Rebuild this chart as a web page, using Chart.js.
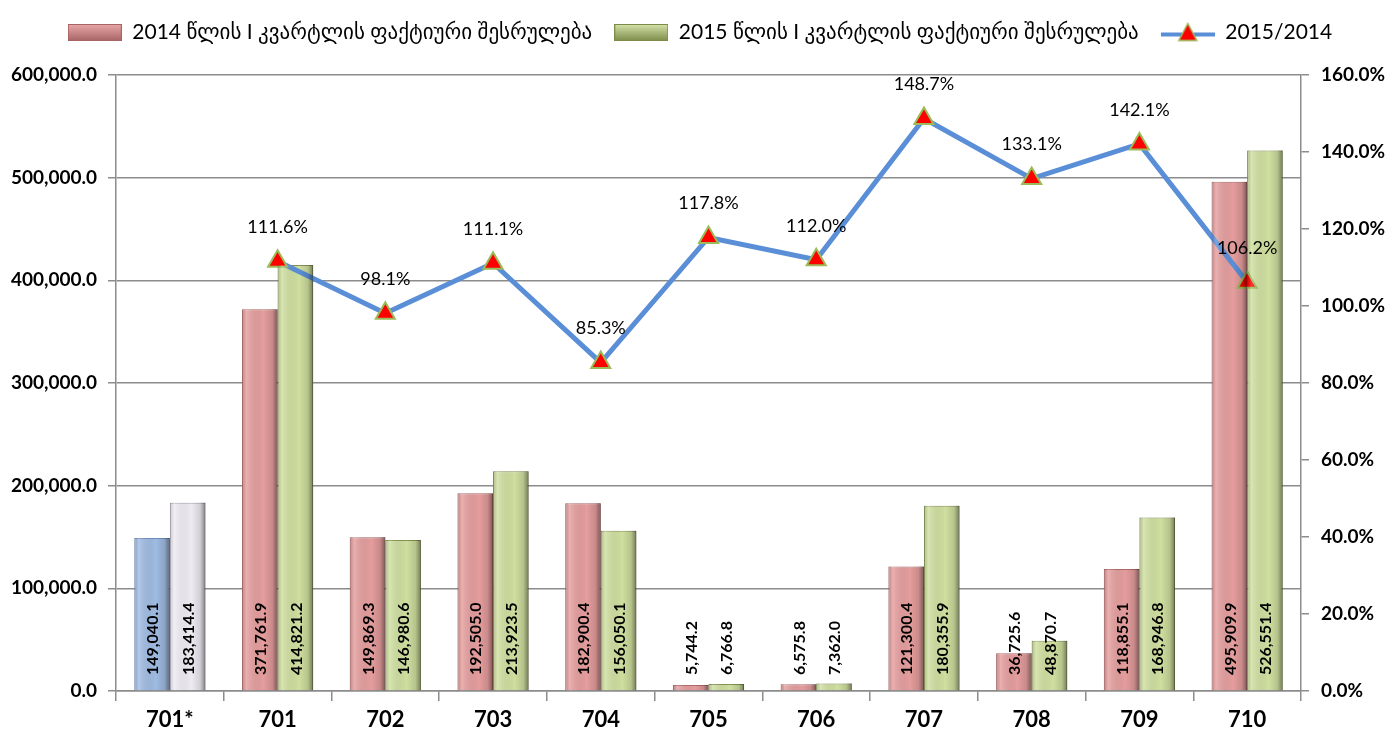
<!DOCTYPE html>
<html>
<head>
<meta charset="utf-8">
<script src="https://cdn.jsdelivr.net/npm/chart.js@4.4.0/dist/chart.umd.min.js"></script>
<style>
  html, body { margin: 0; padding: 0; background: #fff; }
  #wrap { width: 1400px; height: 739px; }
</style>
</head>
<body>
<div id="wrap"><canvas id="chartFakt"></canvas></div>
<script>
// data
var categories = ['701*', '701', '702', '703', '704', '705', '706', '707', '708', '709', '710'];
var fakt2014 = [149040.1, 371761.9, 149869.3, 192505.0, 182900.4, 5744.2, 6575.8, 121300.4, 36725.6, 118855.1, 495909.9];
var fakt2015 = [183414.4, 414821.2, 146980.6, 213923.5, 156050.1, 6766.8, 7362.0, 180355.9, 48870.7, 168946.8, 526551.4];
var ratio = [null, 111.6, 98.1, 111.1, 85.3, 117.8, 112.0, 148.7, 133.1, 142.1, 106.2];
var label2014 = '2014 წლის I კვარტლის ფაქტიური შესრულება';
var label2015 = '2015 წლის I კვარტლის ფაქტიური შესრულება';
var labelRatio = '2015/2014';

var FONT = "Lato, 'DejaVu Sans', sans-serif";

var col2014 = categories.map(function (c, i) { return i === 0 ? '#9fbbe2' : '#e59d9d'; });
var col2015 = categories.map(function (c, i) { return i === 0 ? '#efebf3' : '#cfdf9f'; });
var brd2014 = categories.map(function (c, i) { return i === 0 ? '#6f8fbf' : '#b26a6a'; });
var brd2015 = categories.map(function (c, i) { return i === 0 ? '#a9a4b2' : '#85944f'; });

function fmtNum(v) {
    return v.toLocaleString('en-US', { minimumFractionDigits: 1, maximumFractionDigits: 1 });
}

// legend pictures
function boxImg(fill, dark) {
    var c = document.createElement('canvas');
    c.width = 54; c.height = 17;
    var x = c.getContext('2d');
    var g = x.createLinearGradient(0, 0, 0, 17);
    g.addColorStop(0, fill);
    g.addColorStop(1, dark);
    x.fillStyle = g;
    x.fillRect(0, 0, 54, 17);
    x.strokeStyle = dark;
    x.strokeRect(0.5, 0.5, 53, 16);
    return c;
}
function lineImg() {
    var c = document.createElement('canvas');
    c.width = 54; c.height = 24;
    var x = c.getContext('2d');
    x.strokeStyle = '#5a8fd8';
    x.lineWidth = 4;
    x.beginPath(); x.moveTo(0, 14); x.lineTo(54, 14); x.stroke();
    x.fillStyle = '#ff0000';
    x.strokeStyle = '#9bbb59';
    x.lineWidth = 1.5;
    x.beginPath(); x.moveTo(27, 3); x.lineTo(36, 20); x.lineTo(18, 20); x.closePath();
    x.fill(); x.stroke();
    return c;
}
var legendPics = [boxImg('#e9a9a9', '#a86464'), boxImg('#d7e4ad', '#7c8c48'), lineImg()];

// fixed legend height so the plot starts where the original does
var legendHeight = {
    id: 'legendHeight',
    beforeInit: function (chart) {
        var lg = chart.legend;
        if (!lg) return;
        var orig = lg.fit;
        lg.fit = function () {
            orig.call(this);
            this.height = 75;
        };
    }
};

// bar shading + value labels
var barDecor = {
    id: 'barDecor',
    afterDatasetsDraw: function (chart) {
        var ctx = chart.ctx;
        var area = chart.chartArea;
        [1, 2].forEach(function (di) {
            var meta = chart.getDatasetMeta(di);
            meta.data.forEach(function (bar, i) {
                var w = bar.width, left = bar.x - w / 2, top = bar.y, h = bar.base - bar.y;
                ctx.save();
                var g = ctx.createLinearGradient(left, 0, left + w, 0);
                g.addColorStop(0, 'rgba(0,0,0,0.12)');
                g.addColorStop(0.12, 'rgba(255,255,255,0.2)');
                g.addColorStop(0.6, 'rgba(0,0,0,0)');
                g.addColorStop(0.85, 'rgba(0,0,0,0.12)');
                g.addColorStop(1, 'rgba(0,0,0,0.45)');
                ctx.fillStyle = g;
                ctx.fillRect(left, top, w, h);
                ctx.restore();

                var val = chart.data.datasets[di].data[i];
                ctx.save();
                ctx.translate(bar.x, area.bottom - 16);
                ctx.rotate(-Math.PI / 2);
                ctx.font = "bold 16px " + FONT;
                ctx.fillStyle = '#000';
                ctx.textAlign = 'left';
                ctx.textBaseline = 'middle';
                ctx.fillText(fmtNum(val), 0, 1);
                ctx.restore();
            });
        });
        // ratio labels
        var lm = chart.getDatasetMeta(0);
        lm.data.forEach(function (pt, i) {
            var v = chart.data.datasets[0].data[i];
            if (v === null) return;
            ctx.save();
            ctx.font = "18px " + FONT;
            ctx.fillStyle = '#000';
            ctx.textAlign = 'center';
            ctx.textBaseline = 'middle';
            ctx.fillText(v.toFixed(1) + '%', pt.x, pt.y - 34);
            ctx.restore();
        });
    }
};

var ctx = document.getElementById('chartFakt').getContext('2d');
var chartFakt = new Chart(ctx, {
    type: 'bar',
    data: {
        labels: categories,
        datasets: [{
            type: 'line',
            label: labelRatio,
            data: ratio,
            yAxisID: 'y1',
            borderColor: '#5a8fd8',
            backgroundColor: '#ff0000',
            borderWidth: 5,
            pointStyle: 'triangle',
            pointRadius: 11,
            pointHoverRadius: 11,
            pointBackgroundColor: '#ff0000',
            pointBorderColor: '#9bbb59',
            pointBorderWidth: 2,
            tension: 0,
            order: 0
        }, {
            label: label2014,
            data: fakt2014,
            yAxisID: 'y',
            backgroundColor: col2014,
            borderColor: brd2014,
            borderWidth: 1,
            categoryPercentage: 0.66,
            barPercentage: 1,
            order: 1
        }, {
            label: label2015,
            data: fakt2015,
            yAxisID: 'y',
            backgroundColor: col2015,
            borderColor: brd2015,
            borderWidth: 1,
            categoryPercentage: 0.66,
            barPercentage: 1,
            order: 1
        }]
    },
    options: {
        responsive: true,
        maintainAspectRatio: false,
        animation: false,
        layout: { padding: { left: 0, right: 0, top: 0, bottom: 0 } },
        plugins: {
            tooltip: { enabled: false },
            legend: {
                position: 'top',
                labels: {
                    usePointStyle: true,
                    pointStyleWidth: 54,
                    boxHeight: 17,
                    padding: 22,
                    color: '#000',
                    font: { family: FONT, size: 21 },
                    generateLabels: function (chart) {
                        var order = [1, 2, 0];
                        return order.map(function (di, k) {
                            return {
                                text: chart.data.datasets[di].label,
                                pointStyle: legendPics[k],
                                fillStyle: '#fff',
                                strokeStyle: '#fff',
                                lineWidth: 0,
                                datasetIndex: di,
                                fontColor: '#000'
                            };
                        });
                    }
                }
            }
        },
        scales: {
            x: {
                grid: { display: true, offset: true, drawOnChartArea: false, tickLength: 10, color: '#8c8c8c', lineWidth: 1.5 },
                border: { color: '#8c8c8c', width: 1.5 },
                ticks: { color: '#000', font: { family: FONT, size: 22, weight: 'bold' }, padding: 6 },
                afterFit: function (s) { s.height = 48; }
            },
            y: {
                position: 'left',
                min: 0,
                max: 600000,
                ticks: {
                    stepSize: 100000,
                    color: '#000',
                    font: { family: FONT, size: 19, weight: 'bold' },
                    padding: 11,
                    callback: function (v) { return fmtNum(v); }
                },
                grid: { color: '#8c8c8c', lineWidth: 1.5, tickLength: 8 },
                border: { color: '#8c8c8c', width: 1.5 },
                afterFit: function (s) { s.width = 116; }
            },
            y1: {
                position: 'right',
                min: 0,
                max: 160,
                ticks: {
                    stepSize: 20,
                    color: '#000',
                    font: { family: FONT, size: 19, weight: 'bold' },
                    padding: 12,
                    callback: function (v) { return v.toFixed(1) + '%'; }
                },
                grid: { drawOnChartArea: false, color: '#8c8c8c', lineWidth: 1.5, tickLength: 8 },
                border: { color: '#8c8c8c', width: 1.5 },
                afterFit: function (s) { s.width = 99; }
            }
        }
    },
    plugins: [legendHeight, barDecor]
});
</script>
</body>
</html>
